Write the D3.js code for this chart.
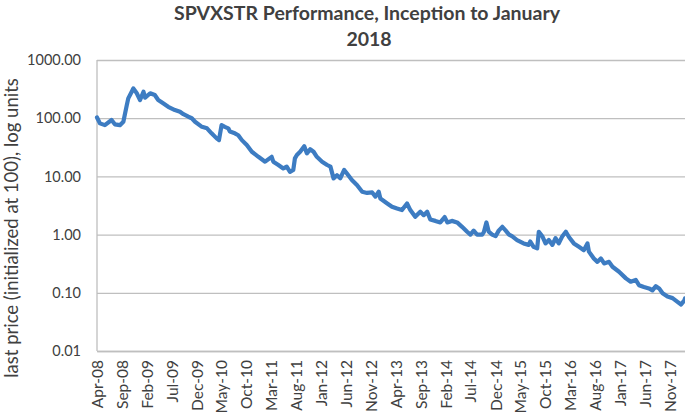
<!DOCTYPE html>
<html>
<head>
<meta charset="UTF-8">
<title>SPVXSTR Performance</title>
<style>
  body { margin: 0; background: #fff; }
  .chart text { font-family: Lato, "Open Sans", sans-serif; fill: #404040; }
  .grid line { stroke: #bfbfbf; stroke-width: 1.3; }
  .grid .domain { display: none; }
</style>
</head>
<body>
<div class="chart"></div>
<script src="https://cdn.jsdelivr.net/npm/d3@7"></script>
<script>
// index level
var dates = [
  "2008-04-01","2008-04-19","2008-05-19","2008-06-29","2008-07-19","2008-08-19","2008-09-09",
  "2008-09-30","2008-10-09","2008-10-30","2008-11-09","2008-11-30","2008-12-20","2009-01-10",
  "2009-01-20","2009-02-20","2009-03-20","2009-04-10","2009-05-10","2009-06-10","2009-07-21",
  "2009-08-21","2009-09-11","2009-10-11","2009-11-01","2009-11-21","2010-01-02","2010-02-02",
  "2010-03-02","2010-04-02","2010-04-16","2010-05-02","2010-05-22","2010-06-12","2010-06-22",
  "2010-07-22","2010-08-12","2010-09-03","2010-10-03","2010-11-03","2010-12-13","2011-01-23",
  "2011-03-04","2011-03-14","2011-04-14","2011-05-14","2011-06-04","2011-06-24","2011-07-14",
  "2011-07-24","2011-08-05","2011-08-25","2011-09-19","2011-10-05","2011-10-25","2011-11-15",
  "2011-12-05","2012-01-06","2012-02-06","2012-02-26","2012-03-16","2012-04-06","2012-04-26",
  "2012-05-20","2012-06-06","2012-07-06","2012-08-06","2012-09-07","2012-10-07","2012-11-07",
  "2012-11-27","2012-12-17","2012-12-27","2013-02-07","2013-03-08","2013-04-08","2013-05-08",
  "2013-06-08","2013-06-28","2013-07-28","2013-08-28","2013-09-18","2013-10-09","2013-10-28",
  "2013-11-28","2013-12-28","2014-01-24","2014-02-09","2014-03-09","2014-04-10","2014-05-10",
  "2014-06-10","2014-06-30","2014-07-20","2014-08-10","2014-09-10","2014-09-20","2014-10-06",
  "2014-10-20","2014-11-10","2014-12-01","2014-12-20","2015-01-11","2015-02-01","2015-02-21",
  "2015-03-11","2015-04-11","2015-05-21","2015-06-21","2015-07-01","2015-07-21","2015-08-12",
  "2015-08-22","2015-09-12","2015-10-02","2015-10-22","2015-11-13","2015-12-02","2015-12-22",
  "2016-01-13","2016-02-03","2016-02-23","2016-03-23","2016-04-23","2016-05-23","2016-06-14",
  "2016-06-23","2016-07-23","2016-08-14","2016-09-04","2016-09-24","2016-10-24","2016-11-14",
  "2016-12-24","2017-02-04","2017-03-05","2017-04-05","2017-04-25","2017-05-25","2017-06-25",
  "2017-07-16","2017-08-06","2017-08-26","2017-09-16","2017-10-16","2017-11-16","2017-12-16",
  "2018-01-07","2018-01-27","2018-01-31"
];
var values = [
  103, 81.5, 76, 93, 78.5, 76, 87,
  168, 219, 285, 325, 268, 205, 285,
  225, 268, 250, 205, 180, 157, 138,
  129, 117, 106, 100, 87, 71, 67,
  55, 45, 42, 76, 71, 67, 59,
  55, 51, 42, 34.7, 26.5, 21.7, 17.9,
  21.7, 17.9, 15.7, 13.7, 14.7, 12.0, 12.9,
  20.4, 23.3, 26.5, 33, 24.9, 29.2, 26.5,
  21.7, 17.9, 15.7, 14.7, 9.25, 10.5, 9.25,
  12.9, 11.2, 8.65, 7.1, 5.45, 5.2, 5.3,
  4.5, 5.45, 4.17, 3.43, 3.0, 2.8, 2.64,
  3.43, 2.64, 2.02, 2.47, 2.16, 2.47, 1.82,
  1.72, 1.62, 2.0, 1.62, 1.72, 1.62, 1.36,
  1.12, 1.0, 1.17, 1.0, 1.0, 1.1, 1.62,
  1.12, 1.0, 0.94, 1.17, 1.36, 1.17, 1.0,
  0.94, 0.805, 0.706, 0.666, 0.76, 0.616, 0.58,
  1.12, 0.94, 0.706, 0.805, 0.666, 0.87, 0.706,
  0.94, 1.12, 0.9, 0.706, 0.616, 0.54, 0.706,
  0.51, 0.39, 0.34, 0.39, 0.32, 0.34, 0.28,
  0.23, 0.177, 0.155, 0.166, 0.135, 0.126, 0.119,
  0.11, 0.13, 0.119, 0.098, 0.086, 0.081, 0.07,
  0.063, 0.074, 0.08
];
var yTicks = [0.01, 0.1, 1, 10, 100, 1000];
var xTicks = ["Apr-08","Sep-08","Feb-09","Jul-09","Dec-09","May-10","Oct-10","Mar-11",
  "Aug-11","Jan-12","Jun-12","Nov-12","Apr-13","Sep-13","Feb-14","Jul-14","Dec-14",
  "May-15","Oct-15","Mar-16","Aug-16","Jan-17","Jun-17","Nov-17"];

var width = 685, height = 413;
var margin = { top: 60, right: 0, bottom: 62, left: 97 };

var parseDay = d3.timeParse("%Y-%m-%d");
var parseTick = d3.timeParse("%b-%y");
var data = dates.map(function(d, i) { return { date: parseDay(d), value: values[i] }; });

var svg = d3.select(".chart").append("svg")
  .attr("width", width)
  .attr("height", height);

var x = d3.scaleTime()
  .domain([parseDay("2008-04-01"), parseDay("2018-01-31")])
  .range([margin.left, width - margin.right]);

var y = d3.scaleLog()
  .domain([0.01, 1000])
  .range([height - margin.bottom, margin.top]);

// horizontal gridlines
svg.append("g")
  .attr("class", "grid")
  .attr("transform", "translate(" + margin.left + ",0)")
  .call(d3.axisLeft(y).tickValues(yTicks).tickSize(-(width - margin.left - margin.right)).tickFormat(""));

// left frame line
svg.append("line")
  .attr("x1", margin.left).attr("x2", margin.left)
  .attr("y1", margin.top).attr("y2", height - margin.bottom)
  .attr("stroke", "#bfbfbf").attr("stroke-width", 1.3);

// y axis labels
var yAxis = svg.append("g")
  .attr("transform", "translate(" + margin.left + ",0)")
  .call(d3.axisLeft(y).tickValues(yTicks).tickSize(0).tickPadding(16).tickFormat(d3.format(".2f")));
yAxis.select(".domain").remove();
yAxis.selectAll("text").style("font-size", "14.5px");

// x axis
var xAxis = svg.append("g")
  .attr("transform", "translate(0," + (height - margin.bottom) + ")")
  .call(d3.axisBottom(x).tickValues(xTicks.map(parseTick)).tickSize(0).tickFormat(d3.timeFormat("%b-%y")));
xAxis.select(".domain").attr("stroke", "#bfbfbf").attr("stroke-width", 1.3);
xAxis.selectAll("text")
  .style("font-size", "15.5px")
  .style("text-anchor", "end")
  .attr("transform", "rotate(-90)")
  .attr("x", -9)
  .attr("y", 0)
  .attr("dy", "0.35em");

// the series
var line = d3.line()
  .x(function(d) { return x(d.date); })
  .y(function(d) { return y(d.value); });

svg.append("path")
  .datum(data)
  .attr("fill", "none")
  .attr("stroke", "#3d7cc2")
  .attr("stroke-width", 4.2)
  .attr("stroke-linejoin", "round")
  .attr("stroke-linecap", "round")
  .attr("d", line);

// title
var title = svg.append("text")
  .attr("text-anchor", "middle")
  .style("font-size", "19.5px")
  .style("font-weight", "bold");
title.append("tspan").attr("x", 367).attr("y", 20).text("SPVXSTR Performance, Inception to January");
title.append("tspan").attr("x", 369).attr("y", 46).text("2018");

// y axis title
svg.append("text")
  .attr("transform", "translate(18," + 228 + ") rotate(-90)")
  .attr("text-anchor", "middle")
  .style("font-size", "18.5px")
  .text("last price (initialized at 100), log units");
</script>
</body>
</html>
